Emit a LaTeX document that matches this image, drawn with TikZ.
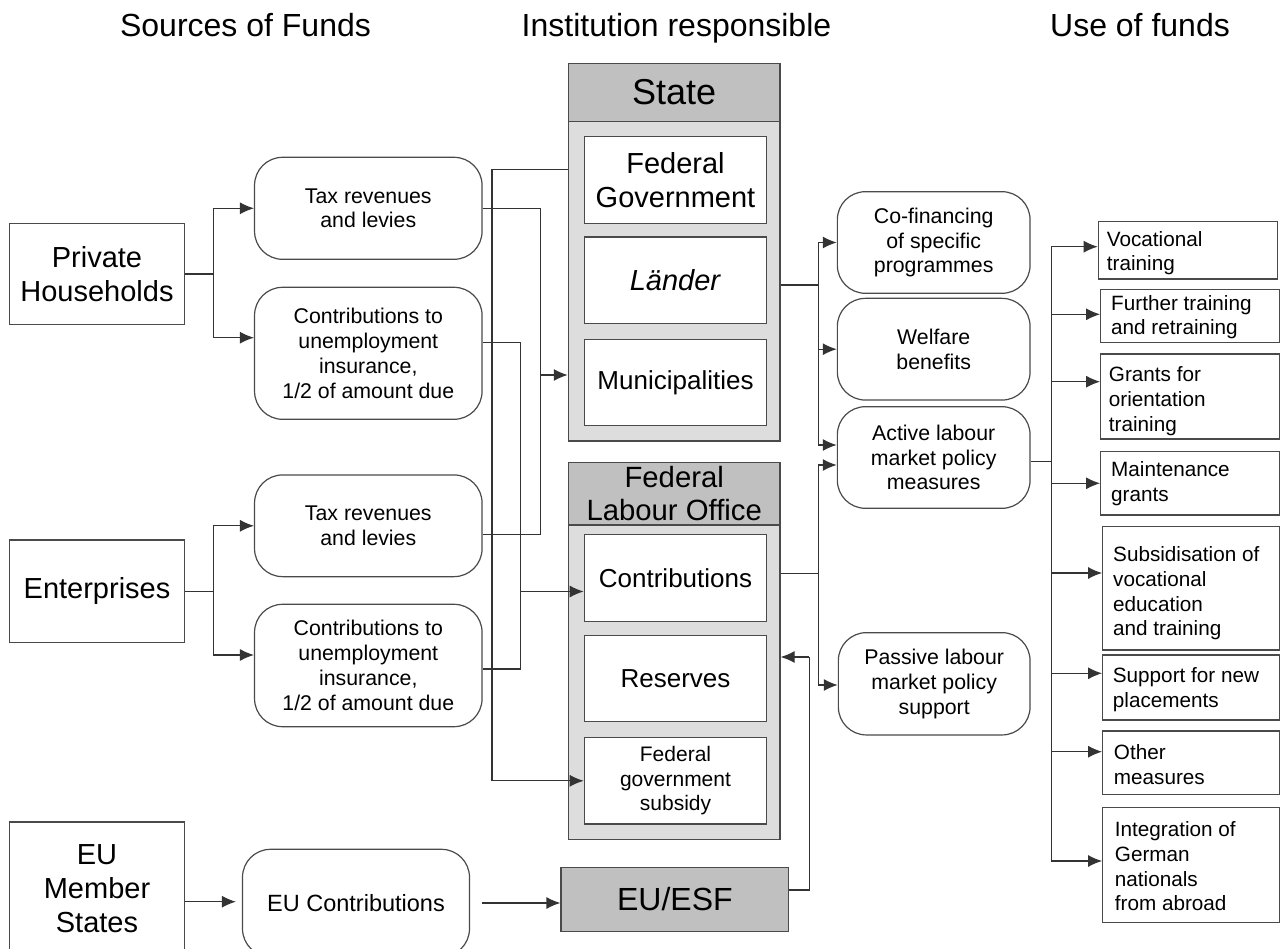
\documentclass[tikz,border=0pt]{standalone}
\usepackage{fontspec}
\setmainfont{Liberation Sans}
\usetikzlibrary{arrows.meta}
\definecolor{lc}{HTML}{333333}
\definecolor{bc}{HTML}{4A4A4A}
\definecolor{hdrc}{HTML}{C0C0C0}
\definecolor{panec}{HTML}{DDDDDD}
\begin{document}
\begin{tikzpicture}[x=1pt,y=-1pt,
  ln/.style={draw=lc, line width=1.2pt},
  arr/.style={ln, -{Latex[length=14pt,width=12pt]}},
  plainbox/.style={draw=bc, line width=1.2pt, fill=white, inner sep=0pt, align=center},
  bigbox/.style={plainbox, font=\fontsize{29}{34}\selectfont},
  midbox/.style={plainbox, font=\fontsize{26}{30}\selectfont, minimum width=182.4pt, minimum height=86.3pt},
  rbox/.style={plainbox, rounded corners=28pt, font=\fontsize{21.3}{24.8}\selectfont},
  ufbox/.style={plainbox},
  uftext/.style={anchor=north west, inner sep=0pt, align=left, font=\fontsize{20.7}{24.6}\selectfont},
  hdr/.style={anchor=base, inner sep=0pt, font=\fontsize{32}{38}\selectfont},
  pane/.style={draw=bc, line width=1.2pt, fill=panec, inner sep=0pt, minimum width=211.7pt},
  headbox/.style={draw=bc, line width=1.2pt, fill=hdrc, inner sep=0pt, align=center},
]
\useasboundingbox (0,0) rectangle (1283,949);
\fill[white] (0,0) rectangle (1283,949);

% column headers
\node[hdr] (h1) at (245.5,36.7) {Sources of Funds};
\node[hdr] (h2) at (676.5,36.7) {Institution responsible};
\node[hdr] (h3) at (1140,36.7) {Use of funds};

% sources
\node[bigbox, minimum width=174.8pt, minimum height=101.4pt] (ph) at (97,274) {Private\\Households};
\node[bigbox, minimum width=174.8pt, minimum height=102.3pt] (ent) at (97,591.2) {Enterprises};
\node[bigbox, minimum width=175pt, minimum height=134pt] (eums) at (97,889) {EU\\Member\\States};

\node[rbox, minimum width=227.5pt, minimum height=102pt] (phtax) at (368.3,208.3) {Tax revenues\\and levies};
\node[rbox, minimum width=227.5pt, minimum height=132pt] (phcon) at (368.3,353.3) {Contributions to\\unemployment\\insurance,\\1/2 of amount due};
\node[rbox, minimum width=227.5pt, minimum height=101.7pt] (enttax) at (368.3,525.8) {Tax revenues\\and levies};
\node[rbox, minimum width=227.5pt, minimum height=122.4pt] (entcon) at (368.3,665.5) {Contributions to\\unemployment\\insurance,\\1/2 of amount due};
\node[rbox, minimum width=227pt, minimum height=107.4pt, font=\fontsize{23.5}{28}\selectfont] (euc) at (356,903) {EU Contributions};

% institutions: State
\node[pane, minimum height=319.5pt] (stateouter) at (674.2,281.2) {};
\node[headbox, minimum width=211.7pt, minimum height=58.2pt, font=\fontsize{36}{40}\selectfont] (stateh) at (674.2,92.4) {State};
\node[bigbox, minimum width=182.4pt, minimum height=86.6pt] (fedgov) at (675.5,180) {Federal\\Government};
\node[bigbox, minimum width=182.4pt, minimum height=86.3pt] (laender) at (675.5,280.2) {\textit{Länder}};
\node[midbox] (munic) at (675.5,382.5) {Municipalities};

% institutions: Federal Labour Office
\node[pane, minimum height=314.3pt] (floouter) at (674.2,682.2) {};
\node[headbox, minimum width=211.7pt, minimum height=62.7pt, font=\fontsize{29.3}{33}\selectfont] (floh) at (674.2,493.7) {Federal\\Labour Office};
\node[midbox] (contr) at (675.5,578) {Contributions};
\node[midbox] (reserves) at (675.5,678.7) {Reserves};
\node[midbox, font=\fontsize{21}{24.5}\selectfont] (fgsub) at (675.5,780.8) {Federal\\government\\subsidy};

\node[headbox, minimum width=227.8pt, minimum height=64.4pt, font=\fontsize{32}{36}\selectfont] (euesf) at (674.9,899.5) {EU/ESF};

% programmes
\node[rbox, minimum width=192.7pt, minimum height=101.6pt] (cofin) at (933.7,242.5) {Co-financing\\of specific\\programmes};
\node[rbox, minimum width=192.7pt, minimum height=101.7pt] (welfare) at (933.7,349.2) {Welfare\\benefits};
\node[rbox, minimum width=192.7pt, minimum height=101.6pt] (active) at (933.7,457.5) {Active labour\\market policy\\measures};
\node[rbox, minimum width=191.7pt, minimum height=102.3pt] (passive) at (934.2,683.8) {Passive labour\\market policy\\support};

% use of funds
\node[ufbox, minimum width=179pt, minimum height=57.3pt] (voc) at (1187.8,250.3) {};
\node[ufbox, minimum width=178.6pt, minimum height=53.4pt] (further) at (1190,316) {};
\node[ufbox, minimum width=178.6pt, minimum height=85pt] (grants) at (1190,396.5) {};
\node[ufbox, minimum width=178.6pt, minimum height=63.3pt] (maint) at (1190,483.3) {};
\node[ufbox, minimum width=176.6pt, minimum height=123.3pt] (subs) at (1191,588.3) {};
\node[ufbox, minimum width=176.6pt, minimum height=65pt] (support) at (1191,687.5) {};
\node[ufbox, minimum width=176.6pt, minimum height=63.3pt] (other) at (1191,762.7) {};
\node[ufbox, minimum width=176.6pt, minimum height=115pt] (integ) at (1191,865.2) {};

\node[uftext] (voct) at (1106.7,231) {Vocational\\training};
\node[uftext] (furthert) at (1111,295) {Further training\\and retraining};
\node[uftext] (grantst) at (1108.7,366.7) {Grants for\\orientation\\training};
\node[uftext] (maintt) at (1111,461.7) {Maintenance\\grants};
\node[uftext] (subst) at (1113,546.7) {Subsidisation of\\vocational\\education\\and training};
\node[uftext] (supportt) at (1112.7,667.7) {Support for new\\placements};
\node[uftext] (othert) at (1113.7,744.3) {Other\\measures};
\node[uftext] (integt) at (1114.7,821.7) {Integration of\\German\\nationals\\from abroad};

% ---------- connectors ----------
% private households
\coordinate (phb) at (213.5,274);
\draw[ln] (ph.east) -- (phb);
\draw[arr] (phb) |- (phtax.west);
\draw[arr] (phb) |- ([yshift=15.6pt]phcon.west);
% enterprises
\coordinate (entb) at (213.5,591.2);
\draw[ln] (ent.east) -- (entb);
\draw[arr] (entb) |- (enttax.west);
\draw[arr] (entb) |- ([yshift=10.5pt]entcon.west);
% taxes to the State
\coordinate (tx) at (540.4,375);
\draw[ln] (phtax.east) -| (tx);
\draw[ln] ([yshift=-8.5pt]enttax.east) -| (tx);
\draw[arr] (tx) -- (tx -| stateouter.west);
% contributions to the Federal Labour Office
\coordinate (cb) at (520.5,591.5);
\draw[ln] ([yshift=10.6pt]phcon.east) -| (cb);
\draw[ln] ([yshift=-3.5pt]entcon.east) -| (cb);
\draw[arr] (cb) -- (cb -| contr.west);
% State to federal government subsidy
\coordinate (sb) at (492,169.3);
\draw[ln] (stateouter.west |- sb) -- (sb);
\draw[arr] (sb) |- (fgsub.west);
% State to programmes
\coordinate (lb) at (818.3,285);
\draw[ln] (stateouter.east |- lb) -- (lb);
\draw[arr] (lb) |- (cofin.west);
\draw[arr] (lb) |- (welfare.west);
\draw[arr] (lb) |- ([yshift=12.5pt]active.west);
% Federal Labour Office to programmes
\coordinate (fb) at (818.3,573.3);
\draw[ln] (floouter.east |- fb) -- (fb);
\draw[arr] (fb) |- ([yshift=-7.5pt]active.west);
\draw[arr] (fb) |- ([yshift=-1.2pt]passive.west);
% active measures to uses
\coordinate (ab) at (1051.7,461.7);
\draw[ln] ([yshift=-4.2pt]active.east) -- (ab);
\draw[arr] (ab) |- ([yshift=3.6pt]voc.west);
\draw[arr] (ab) |- ([yshift=1.7pt]further.west);
\draw[arr] (ab) |- ([yshift=14.8pt]grants.west);
\draw[arr] (ab) |- (maint.west);
\draw[arr] (ab) |- ([yshift=15.3pt]subs.west);
\draw[arr] (ab) |- ([yshift=14.2pt]support.west);
\draw[arr] (ab) |- ([yshift=11pt]other.west);
\draw[arr] (ab) |- ([yshift=4.2pt]integ.west);
% EU
\draw[arr, shorten >=6pt] ([yshift=-12.7pt]eums.east) -- ([yshift=-12.7pt]eums.east -| euc.west);
\draw[arr, shorten <=12pt] (euc.east) -- (euc.east -| euesf.west);
\coordinate (eb) at (809.3,657);
\draw[ln] ([yshift=9.5pt]euesf.east) -| (eb);
\draw[arr] (eb) -- (eb -| floouter.east);
\end{tikzpicture}
\end{document}
